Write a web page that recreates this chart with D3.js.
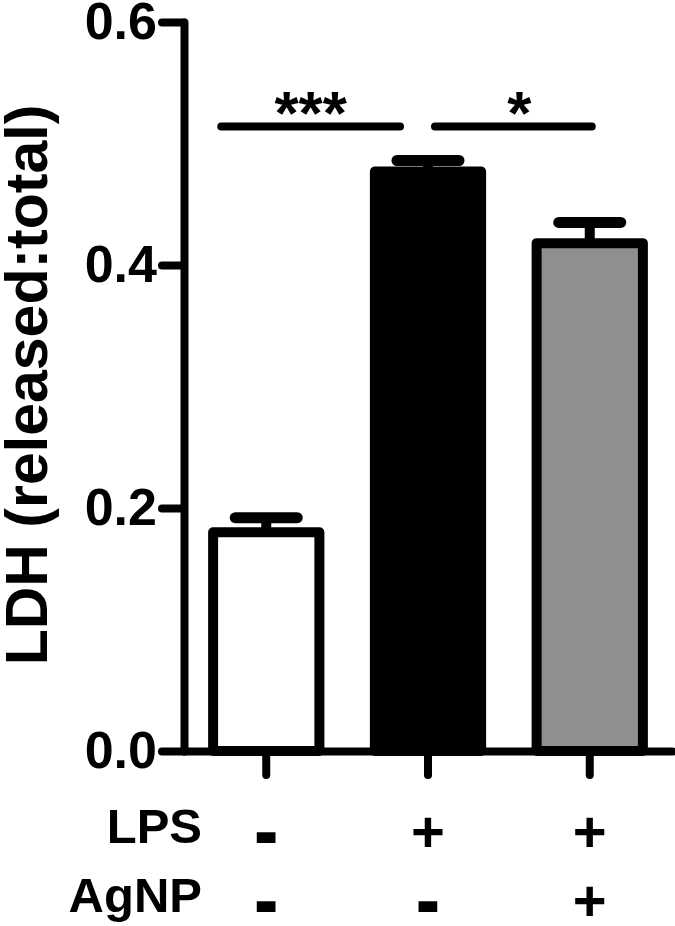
<!DOCTYPE html>
<html lang="en">
<head>
    <meta charset="utf-8">
    <title>ldh_release</title>
    <script type="text/javascript" src="https://d3js.org/d3.v7.min.js"></script>
    <style type="text/css">
        body { margin: 0; background: #fff; }
        text { font-family: "Liberation Sans", Arial, sans-serif; font-weight: bold; fill: #000; }
    </style>
</head>
<body>

<script type="text/javascript">

    // values
    var groups = ["ctrl", "lps", "lps_agnp"];
    var ldhMean = [0.180, 0.477, 0.418];
    var ldhSem = [0.012, 0.009, 0.017];
    var yTicks = [0.0, 0.2, 0.4, 0.6];
    var lpsRow = ["-", "+", "+"];
    var agnpRow = ["-", "-", "+"];
    var sigLabels = ["***", "*"];
    var sigPairs = [[0, 1], [1, 2]];
    var sigLevel = 0.514;

    var width = 675, height = 926;

    var svg = d3.select("body")
        .append("svg")
        .attr("width", width)
        .attr("height", height);

    var x = d3.scaleBand()
        .domain(groups)
        .range([184, 672])
        .paddingInner(0.343)
        .paddingOuter(0.18);

    var y = d3.scaleLinear()
        .domain([0, 0.6])
        .range([751, 22]);

    var fill = d3.scaleOrdinal()
        .domain(groups)
        .range(["#ffffff", "#000000", "#8f8f8f"]);

    var bars = groups.map(function (g, i) {
        return {key: g, mean: ldhMean[i], sem: ldhSem[i]};
    });

    var cx = function (d) { return x(d) + x.bandwidth() / 2; };

    // error bars (under the bar outline)
    svg.selectAll("line.stem")
        .data(bars, d => d.key)
        .enter()
        .append("line")
        .attr("class", "stem")
        .attr("x1", d => cx(d.key))
        .attr("x2", d => cx(d.key))
        .attr("y1", d => y(d.mean))
        .attr("y2", d => y(d.mean + d.sem))
        .attr("stroke", "#000")
        .attr("stroke-width", 10);

    svg.selectAll("line.cap")
        .data(bars, d => d.key)
        .enter()
        .append("line")
        .attr("class", "cap")
        .attr("x1", d => cx(d.key) - 31)
        .attr("x2", d => cx(d.key) + 31)
        .attr("y1", d => y(d.mean + d.sem))
        .attr("y2", d => y(d.mean + d.sem))
        .attr("stroke", "#000")
        .attr("stroke-width", 11)
        .attr("stroke-linecap", "round");

    svg.selectAll("rect.bar")
        .data(bars, d => d.key)
        .enter()
        .append("rect")
        .attr("class", "bar")
        .attr("x", d => x(d.key))
        .attr("width", x.bandwidth())
        .attr("y", d => y(d.mean))
        .attr("height", d => y(0) - y(d.mean))
        .attr("fill", d => fill(d.key))
        .attr("stroke", "#000")
        .attr("stroke-width", 10)
        .attr("stroke-linejoin", "round");

    // y axis
    var yAxis = svg.append("g")
        .attr("transform", "translate(184,0)")
        .call(d3.axisLeft(y)
            .tickValues(yTicks)
            .tickFormat(d3.format(".1f"))
            .tickSize(22)
            .tickSizeOuter(0)
            .tickPadding(5));
    yAxis.select(".domain").attr("stroke-width", 8).attr("stroke-linecap", "round");
    yAxis.selectAll(".tick line").attr("stroke-width", 8).attr("stroke-linecap", "round");
    yAxis.selectAll(".tick text").attr("font-size", 52).attr("font-family", null);

    // x axis
    var xAxis = svg.append("g")
        .attr("transform", "translate(0," + y(0) + ")")
        .call(d3.axisBottom(x)
            .tickSize(24)
            .tickSizeOuter(0)
            .tickFormat(""));
    xAxis.select(".domain").attr("stroke-width", 8).attr("stroke-linecap", "round");
    xAxis.selectAll(".tick line").attr("stroke-width", 8).attr("stroke-linecap", "round");

    svg.append("text")
        .attr("transform", "rotate(-90)")
        .attr("x", -385)
        .attr("y", 47)
        .attr("text-anchor", "middle")
        .attr("font-size", 59)
        .text("LDH (released:total)");

    // significance bars
    var sigOffsets = [[-45, -28], [7, 2]];
    var sig = sigPairs.map(function (p, i) {
        return {
            x1: cx(groups[p[0]]) + sigOffsets[i][0],
            x2: cx(groups[p[1]]) + sigOffsets[i][1],
            label: sigLabels[i]
        };
    });

    svg.selectAll("line.sig")
        .data(sig)
        .enter()
        .append("line")
        .attr("class", "sig")
        .attr("x1", d => d.x1)
        .attr("x2", d => d.x2)
        .attr("y1", y(sigLevel))
        .attr("y2", y(sigLevel))
        .attr("stroke", "#000")
        .attr("stroke-width", 8)
        .attr("stroke-linecap", "round");

    svg.selectAll("text.sig")
        .data(sig)
        .enter()
        .append("text")
        .attr("class", "sig")
        .attr("x", (d, i) => (d.x1 + d.x2) / 2 + (i == 1 ? 6 : 0))
        .attr("y", y(sigLevel) + 8)
        .attr("text-anchor", "middle")
        .attr("font-size", 62)
        .text(d => d.label);

    // treatment table under the axis
    var rows = [
        {name: "LPS", signs: lpsRow, base: 843},
        {name: "AgNP", signs: agnpRow, base: 912}
    ];

    rows.forEach(function (r) {
        svg.append("text")
            .attr("x", 202)
            .attr("y", r.base)
            .attr("text-anchor", "end")
            .attr("font-size", 49)
            .text(r.name);

        // the minus signs are heavier than the font's hyphen, so stroke them a bit
        svg.selectAll(null)
            .data(r.signs)
            .enter()
            .append("text")
            .attr("x", (d, i) => cx(groups[i]))
            .attr("y", d => d == "-" ? r.base + 10 : r.base + 9)
            .attr("text-anchor", "middle")
            .attr("font-size", 58)
            .attr("stroke", d => d == "-" ? "#000" : "none")
            .attr("stroke-width", 4)
            .attr("stroke-linejoin", "miter")
            .text(d => d);
    });

</script>
</body>
</html>
